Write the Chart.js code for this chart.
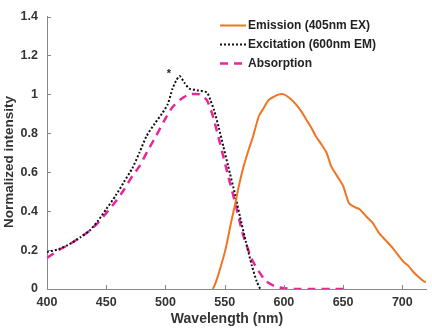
<!DOCTYPE html>
<html>
<head>
<meta charset="utf-8">
<script src="https://cdn.jsdelivr.net/npm/chart.js@4/dist/chart.umd.min.js"></script>
<style>
	html, body { margin: 0; padding: 0; background: #fff; }
	#wrap { width: 432px; height: 328px; }
</style>
</head>
<body>
<div id="wrap"><canvas id="espectro"></canvas></div>
<script>
// data
const excWl  = [400, 410, 419, 428, 436, 443, 450, 458, 465, 472, 478, 484, 491, 497, 502, 506, 509, 512, 516, 520, 528, 535, 538, 541, 545, 549, 553, 559, 563, 568, 573, 577, 580];
const excVal = [0.19, 0.205, 0.23, 0.265, 0.30, 0.35, 0.41, 0.48, 0.55, 0.62, 0.70, 0.785, 0.85, 0.90, 0.95, 1.03, 1.07, 1.094, 1.06, 1.03, 1.02, 1.01, 0.97, 0.92, 0.83, 0.73, 0.63, 0.48, 0.37, 0.24, 0.12, 0.04, 0.0];

const absWl  = [400, 410, 419, 428, 436, 443, 450, 458, 465, 472, 478, 485, 492, 499, 506, 513, 520, 529, 535, 540, 546, 553, 559, 565, 570, 574, 580, 585, 592, 599, 610, 625, 640, 650];
const absVal = [0.16, 0.20, 0.23, 0.265, 0.30, 0.34, 0.39, 0.45, 0.51, 0.58, 0.63, 0.71, 0.785, 0.865, 0.935, 0.975, 1.0, 1.0, 0.97, 0.89, 0.75, 0.58, 0.44, 0.29, 0.20, 0.14, 0.08, 0.04, 0.015, 0.005, 0.0, 0.0, 0.0, 0.0];

const emWl  = [540, 542, 546, 551, 555, 559, 562, 566, 570, 574, 579, 583, 587, 592, 596, 600, 605, 610, 615, 619, 623, 627, 632, 636, 640, 645, 650, 655, 660, 664, 670, 675, 680, 686, 692, 697, 701, 705, 709, 714, 718, 720];
const emVal = [0.0, 0.025, 0.10, 0.21, 0.33, 0.44, 0.53, 0.63, 0.71, 0.785, 0.89, 0.93, 0.97, 0.99, 1.0, 1.0, 0.98, 0.95, 0.91, 0.87, 0.83, 0.785, 0.74, 0.70, 0.63, 0.58, 0.53, 0.44, 0.42, 0.41, 0.37, 0.34, 0.29, 0.25, 0.21, 0.17, 0.14, 0.12, 0.09, 0.06, 0.04, 0.035];

const serieNomes = ['Emission (405nm EX)', 'Excitation (600nm EM)', 'Absorption'];
const yTicks = [0, 0.2, 0.4, 0.6, 0.8, 1, 1.2, 1.4];
const xTicks = [400, 450, 500, 550, 600, 650, 700];
const xTitulo = 'Wavelength (nm)';
const yTitulo = 'Normalized intensity';
const marca = { x: 503, y: 1.115, texto: '*' };

const fonte = '"Liberation Sans", Arial, Helvetica, sans-serif';

function pares(xs, ys) {
	return xs.map((x, i) => ({ x: x, y: ys[i] }));
}

// legenda desenhada dentro da area do grafico, como no original
const legendaPlugin = {
	id: 'legendaInterna',
	afterDraw(chart) {
		const ctx = chart.ctx;
		const area = chart.chartArea;
		const x0 = area.left + 173;
		let y = area.top + 9;
		ctx.save();
		ctx.font = 'bold 12px ' + fonte;
		ctx.textBaseline = 'middle';
		chart.data.datasets.forEach((ds) => {
			ctx.strokeStyle = ds.borderColor;
			ctx.lineWidth = ds.borderWidth;
			ctx.setLineDash(ds.borderDash || []);
			ctx.beginPath();
			ctx.moveTo(x0, y);
			ctx.lineTo(x0 + 26, y);
			ctx.stroke();
			ctx.setLineDash([]);
			ctx.fillStyle = '#222';
			ctx.fillText(ds.label, x0 + 28, y);
			y += 19;
		});
		ctx.restore();
	}
};

// tracinhos para dentro (estilo matlab), titulos dos eixos e o asterisco
const extrasPlugin = {
	id: 'extras',
	afterDraw(chart) {
		const ctx = chart.ctx;
		const xs = chart.scales.x;
		const ys = chart.scales.y;
		ctx.save();
		ctx.strokeStyle = '#888';
		ctx.lineWidth = 1;
		xTicks.forEach((t) => {
			const px = Math.round(xs.getPixelForValue(t)) + 0.5;
			ctx.beginPath();
			ctx.moveTo(px, ys.bottom);
			ctx.lineTo(px, ys.bottom - 4);
			ctx.stroke();
		});
		yTicks.forEach((t) => {
			const py = Math.round(ys.getPixelForValue(t)) + 0.5;
			ctx.beginPath();
			ctx.moveTo(xs.left, py);
			ctx.lineTo(xs.left + 4, py);
			ctx.stroke();
		});

		ctx.fillStyle = '#333';
		ctx.textAlign = 'center';
		ctx.textBaseline = 'middle';
		ctx.font = 'bold 14px ' + fonte;
		ctx.fillText(xTitulo, 227, 319);
		ctx.save();
		ctx.translate(9, 162);
		ctx.rotate(-Math.PI / 2);
		ctx.font = 'bold 13.5px ' + fonte;
		ctx.fillText(yTitulo, 0, 0);
		ctx.restore();

		ctx.fillStyle = '#222';
		ctx.font = 'bold 11px ' + fonte;
		ctx.fillText(marca.texto, xs.getPixelForValue(marca.x), ys.getPixelForValue(marca.y) + 2);
		ctx.restore();
	}
};

const grafico = new Chart(document.getElementById('espectro'), {
	type: 'line',
	data: {
		datasets: [{
			label: serieNomes[0],
			data: pares(emWl, emVal),
			borderColor: '#f07422',
			borderWidth: 2,
			pointRadius: 0,
			tension: 0.2
		}, {
			label: serieNomes[1],
			data: pares(excWl, excVal),
			borderColor: '#111111',
			borderWidth: 2,
			borderDash: [2, 2],
			pointRadius: 0,
			tension: 0.2
		}, {
			label: serieNomes[2],
			data: pares(absWl, absVal),
			borderColor: '#e6279b',
			borderWidth: 2.5,
			borderDash: [8, 6],
			pointRadius: 0,
			tension: 0.2
		}]
	},
	options: {
		responsive: true,
		maintainAspectRatio: false,
		animation: false,
		layout: { padding: { top: 11, right: 6, left: 0, bottom: 0 } },
		plugins: {
			legend: { display: false },
			tooltip: { enabled: false }
		},
		scales: {
			x: {
				type: 'linear',
				min: 400,
				max: 720,
				afterBuildTicks: (s) => { s.ticks = xTicks.map(v => ({ value: v })); },
				afterFit: (s) => { s.height = 39; },
				grid: { display: false, drawTicks: false },
				border: { display: true, color: '#888', width: 1 },
				ticks: { color: '#333', padding: 6, font: { family: fonte, size: 12.5, weight: 'bold' } }
			},
			y: {
				min: 0,
				max: 1.4,
				afterBuildTicks: (s) => { s.ticks = yTicks.map(v => ({ value: v })); },
				afterFit: (s) => { s.width = 47; },
				grid: { display: false, drawTicks: false },
				border: { display: true, color: '#888', width: 1 },
				ticks: {
					color: '#333',
					padding: 9,
					font: { family: fonte, size: 12.5, weight: 'bold' },
					callback: (v) => String(Math.round(v * 10) / 10)
				}
			}
		}
	},
	plugins: [legendaPlugin, extrasPlugin]
});
</script>
</body>
</html>
